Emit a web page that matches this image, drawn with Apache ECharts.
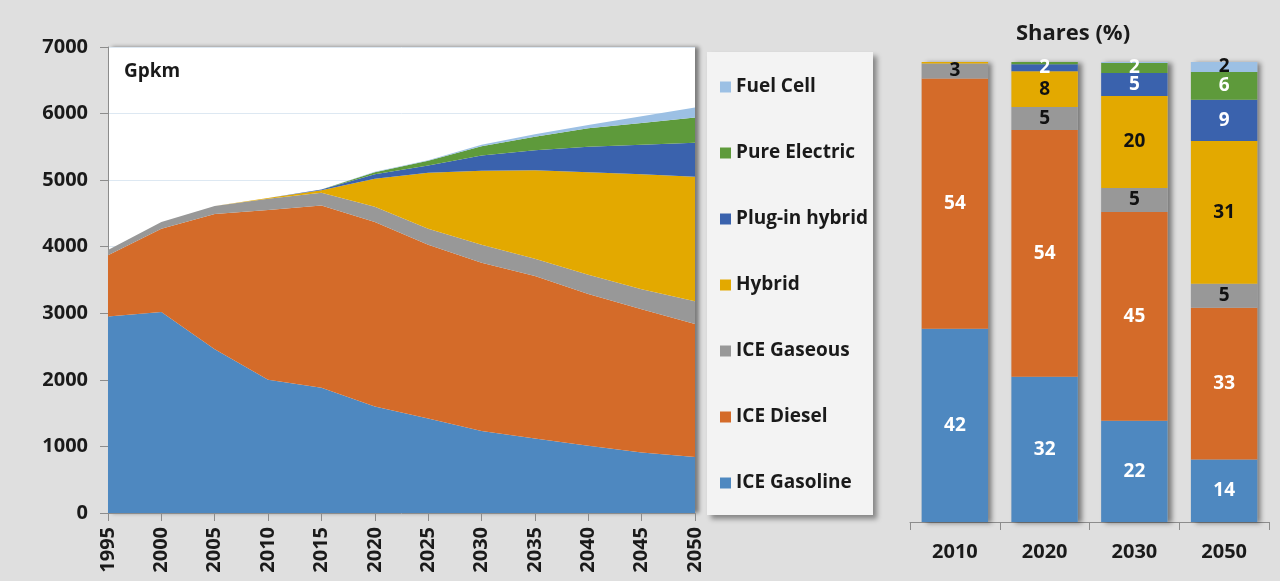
<!DOCTYPE html>
<html><head><meta charset="utf-8">
<script src="https://cdn.jsdelivr.net/npm/echarts@6/dist/echarts.min.js"></script>
<style>html,body{margin:0;padding:0;background:#dfdfdf}#c{width:1280px;height:581px}</style>
</head><body><div id="c"></div>
<script>
// ---- Data: passenger transport activity (Gpkm), stacked by technology ----
const years = ['1995','2000','2005','2010','2015','2020','2025','2030','2035','2040','2045','2050'];
const iceGasoline  = [2950, 3020, 2460, 2000, 1880, 1600, 1420, 1230, 1120, 1010, 910, 840];
const iceDiesel    = [920, 1250, 2030, 2550, 2740, 2770, 2610, 2530, 2440, 2280, 2150, 2000];
const iceGaseous   = [80, 100, 120, 170, 190, 230, 240, 270, 260, 290, 300, 340];
const hybrid       = [0, 0, 0, 10, 40, 420, 840, 1110, 1330, 1540, 1730, 1870];
const plugInHybrid = [0, 0, 0, 0, 10, 70, 110, 230, 300, 380, 440, 510];
const pureElectric = [0, 0, 0, 0, 0, 30, 70, 140, 200, 280, 330, 380];
const fuelCell     = [0, 0, 0, 0, 0, 5, 10, 20, 40, 50, 100, 150];
const yTicks = {min: 0, max: 7000, step: 1000};

// ---- Shares (%) ----
const shareYears = ['2010','2020','2030','2050'];
const shareGasoline = [42, 31.6, 22, 13.6];
const shareDiesel   = [54.4, 53.6, 45.4, 33];
const shareGaseous  = [3.3, 5.0, 5.2, 5.2];
const shareHybrid   = [0.3, 7.8, 20, 31];
const sharePlugIn   = [0, 1.5, 5, 9];
const sharePureEl   = [0, 0.5, 2.2, 6];
const shareFuelCell = [0, 0, 0.2, 2.2];

const names  = ['ICE Gasoline','ICE Diesel','ICE Gaseous','Hybrid','Plug-in hybrid','Pure Electric','Fuel Cell'];
const colors = ['#4e88c0','#d46b29','#989898','#e3a900','#3a62ad','#5e9a3b','#9cc0e4'];
const labelColors = ['#fff','#fff','#111','#111','#fff','#fff','#111'];
const areaData  = [iceGasoline, iceDiesel, iceGaseous, hybrid, plugInHybrid, pureElectric, fuelCell];
const shareData = [shareGasoline, shareDiesel, shareGaseous, shareHybrid, sharePlugIn, sharePureEl, shareFuelCell];

const FONT = '"Open Sans", "DejaVu Sans", sans-serif';
const txt = {fontFamily: FONT, fontWeight: 'bold', fontSize: 20, color: '#1a1a1a'};

const series = [];
names.forEach((n, i) => {
  series.push({
    name: n, type: 'line', stack: 'gpkm', xAxisIndex: 0, yAxisIndex: 0,
    data: areaData[i], symbol: 'none', showSymbol: false,
    lineStyle: {width: 0}, areaStyle: {color: colors[i], opacity: 1},
    itemStyle: {color: colors[i]}, z: 2
  });
});
// backdrop bar with shadow (sum of shares)
const totals = shareYears.map((_, k) => shareData.reduce((s, a) => s + a[k], 0));
series.push({
  type: 'bar', xAxisIndex: 1, yAxisIndex: 1, data: totals, barWidth: '74%', barGap: '-100%',
  itemStyle: {color: '#c8c8c8', shadowColor: 'rgba(0,0,0,0.45)', shadowBlur: 5, shadowOffsetX: 4, shadowOffsetY: 1},
  silent: true, z: 1, label: {show: false}
});
names.forEach((n, i) => {
  series.push({
    name: n, type: 'bar', stack: 'share', xAxisIndex: 1, yAxisIndex: 1,
    data: shareData[i], barWidth: '74%', barGap: '-100%',
    itemStyle: {color: colors[i]}, z: 3,
    label: {
      show: true, position: 'inside', fontFamily: FONT, fontWeight: 'bold', fontSize: 19,
      color: labelColors[i],
      formatter: p => (p.value >= 1.4 ? String(Math.round(p.value)) : '')
    }
  });
});

const chart = echarts.init(document.getElementById('c'), null, {renderer: 'canvas'});
chart.setOption({
  animation: false,
  backgroundColor: '#dfdfdf',
  grid: [
    {left: 108, right: 585, top: 47, bottom: 68, show: true, backgroundColor: '#ffffff', borderWidth: 0,
     shadowColor: 'rgba(0,0,0,0.45)', shadowBlur: 4, shadowOffsetX: 4, shadowOffsetY: 0},
    {left: 910, right: 11, top: 62, bottom: 59}
  ],
  xAxis: [
    {type: 'category', gridIndex: 0, data: years, boundaryGap: false,
     axisLine: {lineStyle: {color: '#8c8c8c', width: 1}},
     axisTick: {show: true, length: 8, interval: 0, lineStyle: {color: '#8c8c8c'}},
     axisLabel: Object.assign({rotate: 90, margin: 14, interval: 0}, txt),
     splitLine: {show: false}},
    {type: 'category', gridIndex: 1, data: shareYears,
     axisLine: {lineStyle: {color: '#8c8c8c', width: 1}},
     axisTick: {show: true, length: 8, alignWithLabel: false, lineStyle: {color: '#8c8c8c'}},
     axisLabel: Object.assign({margin: 20}, txt)}
  ],
  yAxis: [
    {type: 'value', gridIndex: 0, min: yTicks.min, max: yTicks.max, interval: yTicks.step,
     axisLine: {show: true, lineStyle: {color: '#8c8c8c'}},
     axisTick: {show: true, length: 8, lineStyle: {color: '#8c8c8c'}},
     axisLabel: Object.assign({margin: 20, formatter: v => String(v)}, txt),
     splitLine: {show: true, lineStyle: {color: '#dde8f2', width: 1}}},
    {type: 'value', gridIndex: 1, min: 0, max: 100, show: false}
  ],
  legend: {
    orient: 'vertical', left: 715, top: 72, itemWidth: 11, itemHeight: 11, itemGap: 46,
    icon: 'rect', data: names.slice().reverse(),
    textStyle: Object.assign({}, txt, {fontSize: 19, lineHeight: 20}),
    selectedMode: false
  },
  graphic: [
    {type: 'rect', z: 0, silent: true, shape: {x: 707, y: 52, width: 166, height: 463},
     style: {fill: '#f3f3f3', shadowBlur: 5, shadowOffsetX: 4, shadowOffsetY: 4, shadowColor: 'rgba(0,0,0,0.4)'}},
    {type: 'text', z: 10, x: 124, y: 72, silent: true,
     style: {text: 'Gpkm', fill: '#1a1a1a', font: 'bold 19px ' + FONT, textVerticalAlign: 'middle', verticalAlign: 'middle'}},
    {type: 'text', z: 10, x: 1073, y: 34, silent: true,
     style: {text: 'Shares (%)', fill: '#1a1a1a', font: 'bold 22px ' + FONT, textAlign: 'center', align: 'center', textVerticalAlign: 'middle', verticalAlign: 'middle'}}
  ],
  series: series
});
</script></body></html>
